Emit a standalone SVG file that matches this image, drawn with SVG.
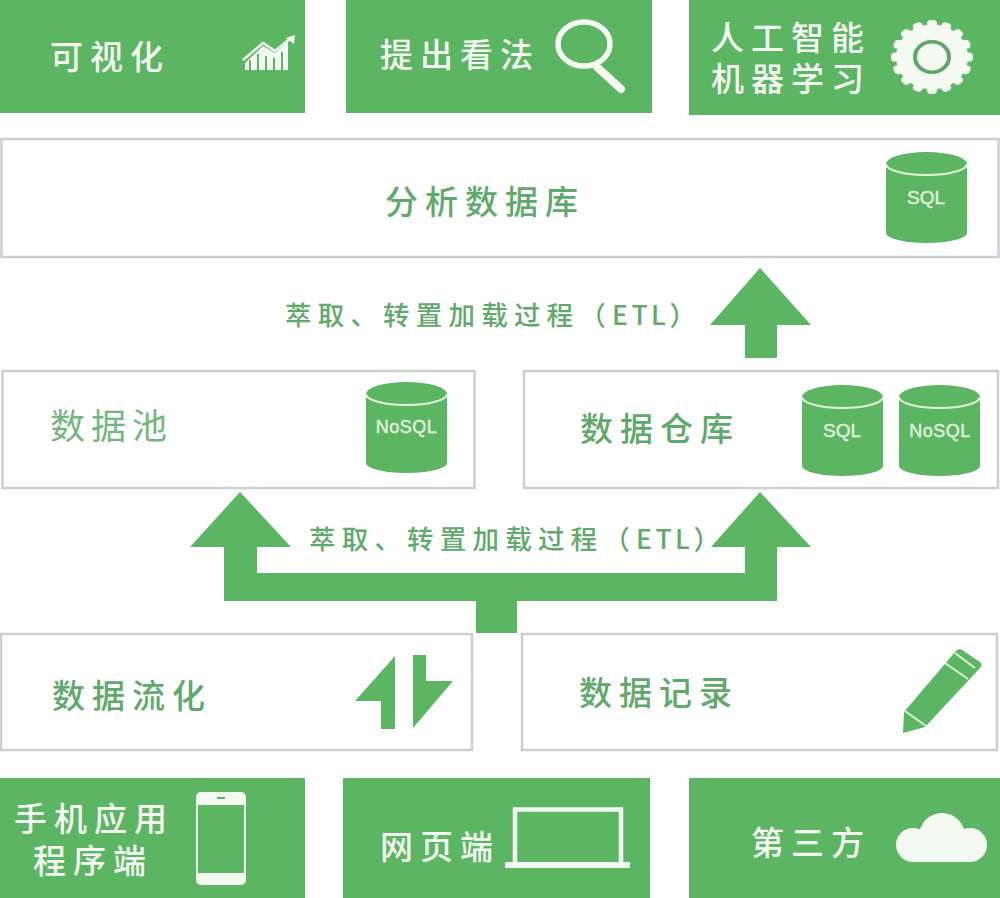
<svg xmlns="http://www.w3.org/2000/svg" width="1000" height="898" viewBox="0 0 1000 898">
<style>
.g{fill:#5cb563}
.box{fill:#fff;stroke:#cdcdd2;stroke-width:2.5}
.t{font-family:"Noto Sans CJK SC","Noto Sans",sans-serif;font-size:33px;letter-spacing:7px;font-weight:500}
.w{fill:#f4faf1}
.d{fill:#5fa96b}
.e{font-family:"Noto Sans CJK SC","Noto Sans",sans-serif;font-size:26.5px;letter-spacing:6.2px;fill:#5fa96b;font-weight:500}
.l{font-family:"Liberation Sans",Arial,sans-serif;fill:#e3f3df;text-anchor:middle;stroke:#e3f3df;stroke-width:.4}
.sep{fill:none;stroke:#e3f7dc;stroke-width:2}
.ws{stroke:#f4faf1;fill:none}
</style>
<defs>
<g id="cyl"><path class="g" d="M0 12A40.500 12 0 0 1 81 12V81A40.500 10 0 0 1 0 81Z"/><path class="sep" d="M0 12A40.500 11 0 0 0 81 12"/></g>
</defs>
<rect width="1000" height="898" fill="#fff"/>
<g id="connectors">
<path id="etl-up" class="g" d="M760 268L811 325H777V358H745V325H710Z"/>
<path id="etl-fork" class="g" d="M240 492L291 547H257V573H745V547H711L760 492L811 547H777V601H517V633H476V601H224V547H190Z"/>
<text class="e" x="285" y="325">萃取、转置加载过程（<tspan style="letter-spacing:3.5px">ETL）</tspan></text>
<text class="e" x="309" y="549">萃取、转置加载过程（<tspan style="letter-spacing:3.5px">ETL）</tspan></text>
</g>
<g id="visualize">
<rect class="g" x="0" y="0" width="305" height="113"/>
<text class="t w" x="50" y="69">可视化</text>
<path class="w" d="M245 70V63L263 46L275 53L288 42V70H283V52H281V70H275V58H273V70H267V56H265V70H259V54H257V70H251V60H249V70Z"/>
<path class="ws" stroke-width="2.500" d="M243 60L263 43L275 51L291 38"/><path class="w" d="M286 38L295 35L294 44Z"/>
</g>
<g id="insight">
<rect class="g" x="346" y="0" width="306" height="113"/>
<text class="t w" x="380" y="67">提出看法</text>
<ellipse class="ws" cx="584" cy="44" rx="26" ry="22" stroke-width="5.500"/>
<path class="ws" d="M597 67L621 89" stroke-width="8" stroke-linecap="round"/>
</g>
<g id="ai-ml">
<rect class="g" x="689" y="0" width="311" height="115"/>
<text class="t w" x="711" y="50">人工智能</text>
<text class="t w" x="711" y="91">机器学习</text>
<g transform="translate(932 57) scale(1 .9)">
<g class="w"><circle r="36"/>
<rect id="tooth" x="-5" y="-41" width="10" height="10" rx="4"/>
<use href="#tooth" transform="rotate(22.500)"/><use href="#tooth" transform="rotate(45)"/><use href="#tooth" transform="rotate(67.500)"/><use href="#tooth" transform="rotate(90)"/><use href="#tooth" transform="rotate(112.500)"/><use href="#tooth" transform="rotate(135)"/><use href="#tooth" transform="rotate(157.500)"/><use href="#tooth" transform="rotate(180)"/><use href="#tooth" transform="rotate(202.500)"/><use href="#tooth" transform="rotate(225)"/><use href="#tooth" transform="rotate(247.500)"/><use href="#tooth" transform="rotate(270)"/><use href="#tooth" transform="rotate(292.500)"/><use href="#tooth" transform="rotate(315)"/><use href="#tooth" transform="rotate(337.500)"/></g>
<circle r="17" fill="none" stroke="#5fa66b" stroke-width="4"/>
</g>
</g>
<g id="analytics-db">
<rect class="box" x="1.500" y="139" width="997" height="118"/>
<text class="t d" x="385" y="214">分析数据库</text>
<use href="#cyl" x="886" y="152"/>
<text class="l" x="926" y="204" font-size="19">SQL</text>
</g>
<g id="data-lake">
<rect class="box" x="2.500" y="371" width="472" height="117"/>
<text class="t" x="50" y="439" fill="#74b67f" style="font-size:35px;letter-spacing:6px;font-weight:400">数据池</text>
<use href="#cyl" x="366" y="382"/>
<text class="l" x="406.500" y="433" font-size="18" letter-spacing=".5">NoSQL</text>
</g>
<g id="data-warehouse">
<rect class="box" x="524" y="371" width="474" height="117"/>
<text class="t d" x="580" y="441">数据仓库</text>
<use href="#cyl" x="802" y="385"/>
<text class="l" x="842" y="437" font-size="19">SQL</text>
<use href="#cyl" x="899" y="385"/>
<text class="l" x="940" y="437" font-size="18" letter-spacing=".5">NoSQL</text>
</g>
<g id="streaming">
<rect class="box" x="1" y="634" width="471" height="116"/>
<text class="t d" x="52" y="708">数据流化</text>
<path class="g" d="M395 656V729H381V701H355Z"/>
<path class="g" d="M413 655H426V681H453L413 728Z"/>
</g>
<g id="data-log">
<rect class="box" x="522" y="634" width="475" height="116"/>
<text class="t d" x="579" y="705">数据记录</text>
<path class="g" d="M903 733L904 712L955 652Q958 648 962 650L980 662Q983 665 980 668L925 727Z"/>
<path d="M955 653L975 668M945 663L968 679M905 711L926 726" stroke="#dff6d8" stroke-width="2" fill="none"/>
</g>
<g id="mobile">
<rect class="g" x="0" y="778" width="305" height="120"/>
<text class="t w" x="14" y="831">手机应用</text>
<text class="t w" x="33" y="873">程序端</text>
<rect class="w" x="196" y="792" width="50" height="93" rx="5"/>
<rect class="g" x="198" y="805" width="46" height="68"/>
<rect class="g" x="217" y="797" width="8" height="2"/>
</g>
<g id="web">
<rect class="g" x="343" y="778" width="307" height="120"/>
<text class="t w" x="380" y="859">网页端</text>
<path class="ws" d="M515 863V809.500H621V863" stroke-width="4.500"/>
<rect class="w" x="505" y="862" width="125" height="6"/>
</g>
<g id="third-party">
<rect class="g" x="689" y="778" width="311" height="120"/>
<text class="t w" x="751" y="855">第三方</text>
<g class="w"><circle cx="942" cy="836" r="23"/><circle cx="913" cy="845" r="17"/><circle cx="970" cy="845" r="17"/><rect x="913" y="840" width="57" height="22"/></g>
</g>
</svg>
